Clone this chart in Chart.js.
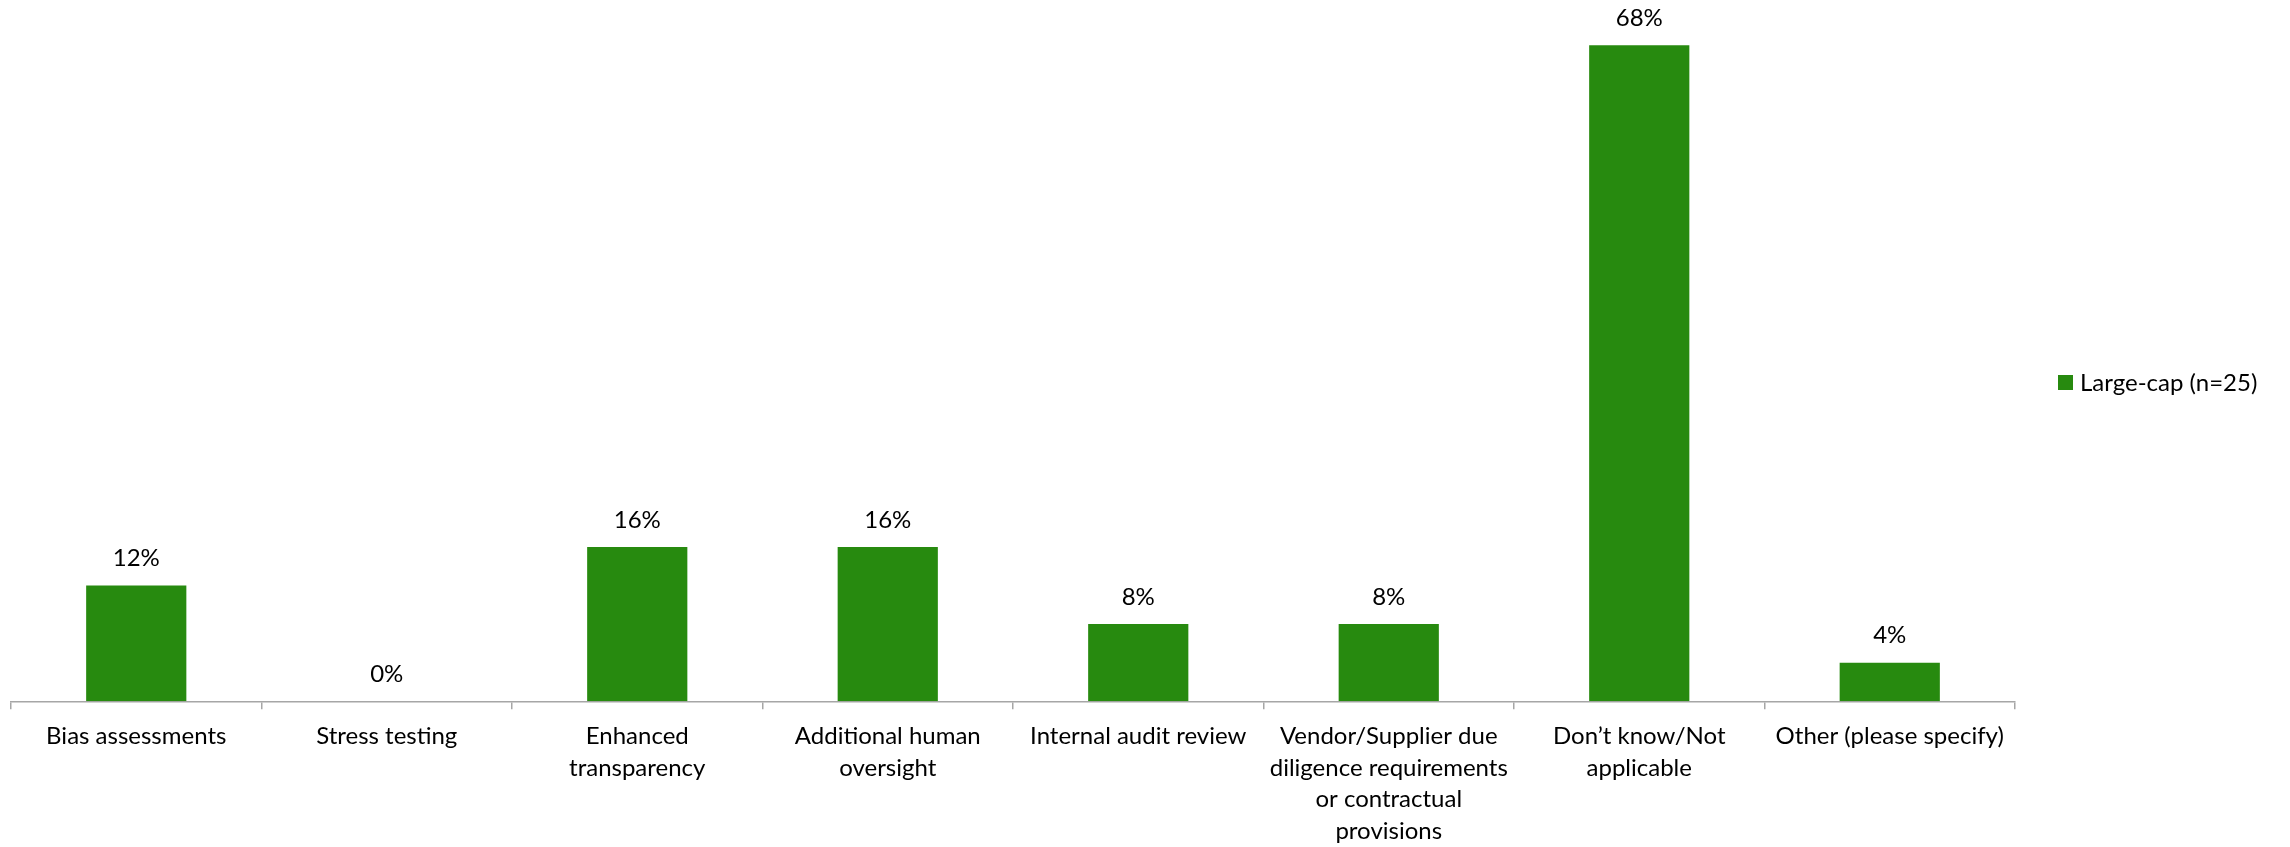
<!DOCTYPE html>
<html>
<head>
<meta charset="utf-8">
<script src="https://cdn.jsdelivr.net/npm/chart.js@4.4.0/dist/chart.umd.min.js"></script>
<style>
  html, body { margin: 0; padding: 0; background: #fff; }
  #wrap { width: 2290px; height: 847px; }
</style>
</head>
<body>
<div id="wrap"><canvas id="chart" width="2290" height="847"></canvas></div>
<script>
const categories = [
  "Bias assessments",
  "Stress testing",
  ["Enhanced", "transparency"],
  ["Additional human", "oversight"],
  "Internal audit review",
  ["Vendor/Supplier due", "diligence requirements", "or contractual", "provisions"],
  ["Don\u2019t know/Not", "applicable"],
  "Other (please specify)"
];
const seriesName = "Large-cap (n=25)";
const largeCap = [12, 0, 16, 16, 8, 8, 68, 4];
const barColor = "#278A0F";
const fontFamily = "Lato, 'Open Sans', sans-serif";

// value labels above each bar
const valueLabels = {
  id: "valueLabels",
  afterDatasetsDraw(chart) {
    const ctx = chart.ctx;
    const meta = chart.getDatasetMeta(0);
    ctx.save();
    ctx.font = "24px " + fontFamily;
    ctx.fillStyle = "#000";
    ctx.textAlign = "center";
    ctx.textBaseline = "middle";
    meta.data.forEach((bar, i) => {
      ctx.fillText(largeCap[i] + "%", bar.x, bar.y - 27);
    });
    ctx.restore();
  }
};

// legend on the right, drawn by hand so it can sit where the original puts it
const sideLegend = {
  id: "sideLegend",
  afterDraw(chart) {
    const ctx = chart.ctx;
    const ds = chart.data.datasets[0];
    ctx.save();
    ctx.fillStyle = ds.backgroundColor;
    ctx.fillRect(2058, 375, 15, 15);
    ctx.font = "24px " + fontFamily;
    ctx.fillStyle = "#000";
    ctx.textAlign = "left";
    ctx.textBaseline = "middle";
    ctx.fillText(ds.label, 2080, 383);
    ctx.restore();
  }
};

new Chart(document.getElementById("chart").getContext("2d"), {
  type: "bar",
  data: {
    labels: categories,
    datasets: [{
      label: seriesName,
      data: largeCap,
      backgroundColor: barColor,
      borderWidth: 0,
      barPercentage: 0.4,
      categoryPercentage: 1
    }]
  },
  options: {
    responsive: false,
    animation: false,
    layout: { padding: { left: 11, right: 275, top: 26, bottom: -11 } },
    plugins: {
      legend: { display: false },
      tooltip: { enabled: false }
    },
    scales: {
      x: {
        grid: {
          display: true,
          drawOnChartArea: false,
          drawTicks: true,
          tickLength: 8,
          color: "#a6a6a6",
          lineWidth: 1.5
        },
        border: { display: true, color: "#a6a6a6", width: 1.5 },
        ticks: {
          color: "#000",
          autoSkip: false,
          maxRotation: 0,
          minRotation: 0,
          padding: 11,
          font: { family: fontFamily, size: 24, lineHeight: 1.32 }
        }
      },
      y: {
        display: false,
        min: 0,
        max: 70
      }
    }
  },
  plugins: [valueLabels, sideLegend]
});
</script>
</body>
</html>
